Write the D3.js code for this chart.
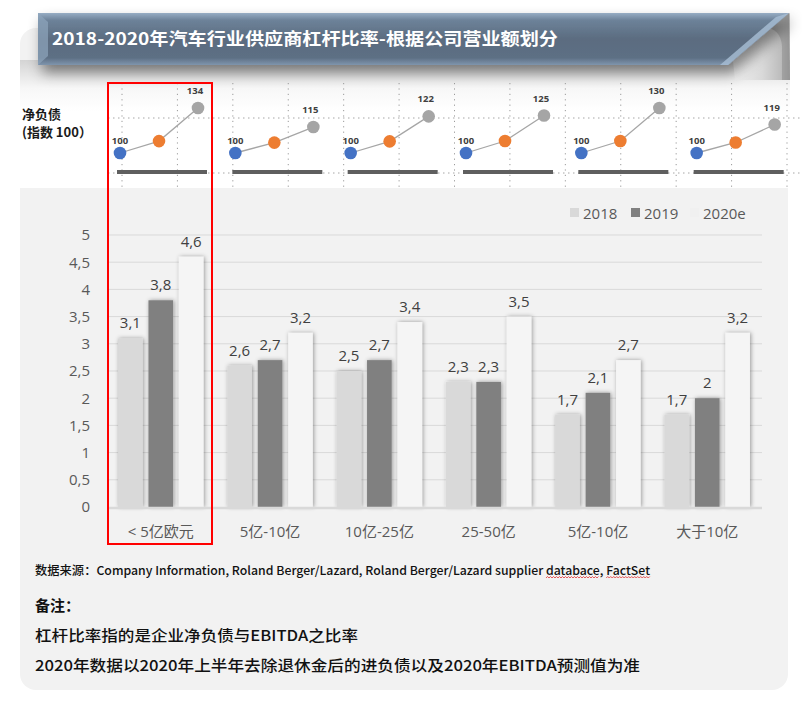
<!DOCTYPE html>
<html>
<head>
<meta charset="utf-8">
<script src="https://cdn.jsdelivr.net/npm/d3@7"></script>
<style>
  html, body { margin: 0; padding: 0; background: #ffffff; }
  svg { display: block; }
</style>
</head>
<body>
<svg id="chart" width="802" height="703"></svg>
<script>
// ---------------- DATA ----------------
const categories = ["< 5亿欧元", "5亿-10亿", "10亿-25亿", "25-50亿", "5亿-10亿", "大于10亿"];
const seriesNames = ["2018", "2019", "2020e"];
const values2018 = [3.1, 2.6, 2.5, 2.3, 1.7, 1.7];
const values2019 = [3.8, 2.7, 2.7, 2.3, 2.1, 2.0];
const values2020e = [4.6, 3.2, 3.4, 3.5, 2.7, 3.2];
const yTicks = [0, 0.5, 1, 1.5, 2, 2.5, 3, 3.5, 4, 4.5, 5];

// net debt index insets (index 2018 = 100)
const debtIndex2018 = [100, 100, 100, 100, 100, 100];
const debtIndex2019 = [109, 106, 107, 108, 108, 107];
const debtIndex2020 = [134, 115, 122, 125, 130, 119];
const insetAxisMax = [134, 126, 127, 130, 130, 130];

const titleText = "2018-2020年汽车行业供应商杠杆比率-根据公司营业额划分";
const sourceText = "数据来源：Company Information, Roland Berger/Lazard, Roland Berger/Lazard supplier databace, FactSet";
const notesTitle = "备注：";
const noteLines = ["杠杆比率指的是企业净负债与EBITDA之比率", "2020年数据以2020年上半年去除退休金后的进负债以及2020年EBITDA预测值为准"];
const insetLabelLines = ["净负债", "(指数 100）"];

// ---------------- SETUP ----------------
const svg = d3.select("#chart");
const FONT = '"Open Sans","Noto Sans CJK SC",sans-serif';
const CJK = '"Noto Sans CJK SC","Open Sans",sans-serif';
const fmt = d => String(d).replace(".", ",");

const defs = svg.append("defs");
const barShadow = defs.append("filter").attr("id", "barShadow")
  .attr("x", "-50%").attr("y", "-20%").attr("width", "200%").attr("height", "140%");
barShadow.append("feDropShadow").attr("dx", 1).attr("dy", 0).attr("stdDeviation", 2.2)
  .attr("flood-color", "#000").attr("flood-opacity", 0.38);

const bannerShadow = defs.append("filter").attr("id", "bannerShadow")
  .attr("x", "-10%").attr("y", "-30%").attr("width", "120%").attr("height", "190%");
bannerShadow.append("feDropShadow").attr("dx", 4).attr("dy", 8).attr("stdDeviation", 7)
  .attr("flood-color", "#000").attr("flood-opacity", 0.45);

const bannerGrad = defs.append("linearGradient").attr("id", "bannerGrad")
  .attr("x1", 0).attr("y1", 0).attr("x2", 0).attr("y2", 1);
[["0%", "#97adc4"], ["14%", "#6d8299"], ["50%", "#5b6c80"], ["86%", "#5d6f84"], ["100%", "#7f95ad"]]
  .forEach(([o, c]) => bannerGrad.append("stop").attr("offset", o).attr("stop-color", c));

const curlGrad = defs.append("linearGradient").attr("id", "curlGrad")
  .attr("x1", 0).attr("y1", 0).attr("x2", 1).attr("y2", 0);
[["0%", "#f4f4f4"], ["55%", "#d9d9d9"], ["85%", "#bdbdbd"], ["100%", "#9c9c9c"]]
  .forEach(([o, c]) => curlGrad.append("stop").attr("offset", o).attr("stop-color", c));

const stripGrad = defs.append("linearGradient").attr("id", "stripGrad")
  .attr("x1", 0).attr("y1", 0).attr("x2", 0).attr("y2", 1);
[["0%", "#d4d4d4"], ["22%", "#f7f7f7"], ["40%", "#ffffff"], ["100%", "#ffffff"]]
  .forEach(([o, c]) => stripGrad.append("stop").attr("offset", o).attr("stop-color", c));

// ---------------- BACKGROUND PANEL ----------------
svg.append("rect").attr("x", 20).attr("y", 28).attr("width", 768).attr("height", 662)
  .attr("rx", 16).attr("fill", "#f2f2f2");
// white strip for insets
svg.append("rect").attr("x", 20).attr("y", 60).attr("width", 770).attr("height", 128)
  .attr("fill", "url(#stripGrad)");

// page curl at right of banner
svg.append("path")
  .attr("d", "M728,13 L789,13 L790,80 L735,80 Z")
  .attr("fill", "url(#curlGrad)");
svg.append("path")
  .attr("d", "M764,27 Q781,29 782,46 L782,80 L790,80 L790,13 Z")
  .attr("fill", "#8f8f8f").attr("opacity", 0.55);

// banner
const banner = svg.append("g").attr("filter", "url(#bannerShadow)");
banner.append("path").attr("d", "M38,13 L789,13 L728,65 L38,65 Z").attr("fill", "url(#bannerGrad)");
svg.append("path").attr("d", "M38,13 L48,22 L48,56 L38,65 Z").attr("fill", "#8fa5bc").attr("opacity", 0.7);
svg.append("path").attr("d", "M789,13 L728,65 L720,65 L776,17 Z").attr("fill", "#a9bfd6").attr("opacity", 0.8);

svg.append("text").attr("x", 52).attr("y", 45)
  .attr("font-family", CJK).attr("font-weight", 700).attr("font-size", 17)
  .attr("fill", "#ffffff")
  .attr("textLength", 506).attr("lengthAdjust", "spacingAndGlyphs")
  .text(titleText);

// ---------------- INSETS ----------------
const insetX = d3.scaleBand().domain(categories.map((c, i) => i)).range([108, 800]);
const insetInner = d3.scalePoint().domain(seriesNames).range([12, 90]);
const insetColors = ["#4472c4", "#ed7d31", "#a5a5a5"];
const gridX = d3.scaleLinear().domain([0, 12]).range([122, 787]);

const insetG = svg.append("g");
// dotted grid
insetG.selectAll("line.vg").data(d3.range(13)).join("line")
  .attr("x1", d => gridX(d)).attr("x2", d => gridX(d))
  .attr("y1", 83).attr("y2", 188)
  .attr("stroke", "#9a9a9a").attr("stroke-width", 1).attr("stroke-dasharray", "1.2,4.2");
[118, 173].forEach(y => {
  insetG.append("line").attr("x1", 108).attr("x2", 800).attr("y1", y).attr("y2", y)
    .attr("stroke", "#a6a6a6").attr("stroke-width", 1).attr("stroke-dasharray", "1.5,3.5");
});

categories.forEach((c, i) => {
  const vals = [debtIndex2018[i], debtIndex2019[i], debtIndex2020[i]];
  const y = d3.scaleLinear().domain([100, insetAxisMax[i]]).range([153, 108]);
  const x0 = insetX(i);
  const pts = vals.map((v, j) => [x0 + insetInner(seriesNames[j]), y(v)]);
  const g = insetG.append("g");
  g.append("rect").attr("x", pts[0][0] - 3).attr("y", 170)
    .attr("width", pts[2][0] - pts[0][0] + 12).attr("height", 4)
    .attr("fill", "#5f5f5f");
  g.append("path").attr("d", d3.line()(pts))
    .attr("fill", "none").attr("stroke", "#a6a6a6").attr("stroke-width", 1.3);
  g.selectAll("circle").data(pts).join("circle")
    .attr("cx", d => d[0]).attr("cy", d => d[1]).attr("r", 6.3)
    .attr("fill", (d, j) => insetColors[j]);
  g.append("text").attr("x", pts[0][0]).attr("y", pts[0][1] - 9)
    .attr("text-anchor", "middle").attr("font-family", FONT).attr("font-weight", 700)
    .attr("font-size", 9.5).attr("fill", "#404040").text(vals[0]);
  g.append("text").attr("x", pts[2][0] - 3).attr("y", pts[2][1] - 14)
    .attr("text-anchor", "middle").attr("font-family", FONT).attr("font-weight", 700)
    .attr("font-size", 9.5).attr("fill", "#404040").text(vals[2]);
});

insetLabelLines.forEach((t, i) => {
  svg.append("text").attr("x", 22).attr("y", 119 + i * 18)
    .attr("font-family", CJK).attr("font-weight", 700).attr("font-size", 13)
    .attr("fill", "#1a1a1a").text(t);
});

// ---------------- MAIN BAR CHART ----------------
const y = d3.scaleLinear().domain([0, 5]).range([507, 235]);
const x0 = d3.scaleBand().domain(d3.range(categories.length)).range([108, 760])
  .paddingInner(0.218).paddingOuter(0.092);
const x1 = d3.scaleBand().domain(seriesNames).range([0, x0.bandwidth()]).paddingInner(0.19);
const colors = { "2018": "#d9d9d9", "2019": "#808080", "2020e": "#f5f5f5" };
const seriesValues = { "2018": values2018, "2019": values2019, "2020e": values2020e };

// gridlines
svg.append("g").selectAll("line").data(yTicks.filter(d => d > 0)).join("line")
  .attr("x1", 108).attr("x2", 762).attr("y1", d => y(d)).attr("y2", d => y(d))
  .attr("stroke", "#d9d9d9").attr("stroke-width", 1);

// y axis labels via d3 axis
const yAxis = svg.append("g").attr("transform", "translate(96,0)")
  .call(d3.axisLeft(y).tickValues(yTicks).tickFormat(fmt).tickSize(0).tickPadding(6));
yAxis.select(".domain").remove();
yAxis.selectAll("text").attr("font-family", FONT).attr("font-size", 15).attr("fill", "#595959");

// bars
const groups = svg.append("g").selectAll("g").data(categories.map((c, i) => i)).join("g")
  .attr("transform", i => `translate(${x0(i)},0)`);
groups.selectAll("rect").data(i => seriesNames.map(s => ({ s, v: seriesValues[s][i] }))).join("rect")
  .attr("x", d => x1(d.s)).attr("width", x1.bandwidth())
  .attr("y", d => y(d.v)).attr("height", d => y(0) - y(d.v))
  .attr("fill", d => colors[d.s]).attr("filter", "url(#barShadow)");
groups.selectAll("text").data(i => seriesNames.map(s => ({ s, v: seriesValues[s][i] }))).join("text")
  .attr("x", d => x1(d.s) + x1.bandwidth() / 2).attr("y", d => y(d.v) - 10)
  .attr("text-anchor", "middle").attr("font-family", FONT).attr("font-size", 15)
  .attr("fill", "#404040").text(d => fmt(d.v));

// baseline
svg.append("line").attr("x1", 108).attr("x2", 762).attr("y1", y(0) + 1).attr("y2", y(0) + 1)
  .attr("stroke", "#d9d9d9").attr("stroke-width", 2.5);

// x axis labels
const xAxis = svg.append("g").attr("transform", `translate(0,${y(0) + 2})`)
  .call(d3.axisBottom(x0).tickFormat(i => categories[i]).tickSize(0).tickPadding(17));
xAxis.select(".domain").remove();
xAxis.selectAll("text").attr("font-family", FONT).attr("font-size", 15).attr("fill", "#595959");

// legend
const legendX = d3.scalePoint().domain(seriesNames).range([570, 690]);
const legend = svg.append("g").selectAll("g").data(seriesNames).join("g")
  .attr("transform", (d, i) => `translate(${legendX(d) + (i === 1 ? 1 : 0)},0)`);
legend.append("rect").attr("x", 0).attr("y", 208).attr("width", 9).attr("height", 9)
  .attr("fill", d => colors[d] === "#f5f5f5" ? "#f0f0f0" : colors[d]);
legend.append("text").attr("x", 13).attr("y", 218.5)
  .attr("font-family", FONT).attr("font-size", 15).attr("fill", "#595959").text(d => d);

// red highlight box
svg.append("rect").attr("x", 108).attr("y", 83).attr("width", 104).attr("height", 461)
  .attr("fill", "none").attr("stroke", "#ff0000").attr("stroke-width", 2);

// ---------------- FOOTER ----------------
const src = svg.append("text").attr("x", 35).attr("y", 575)
  .attr("font-family", CJK).attr("font-weight", 500).attr("font-size", 12)
  .attr("fill", "#111").attr("textLength", 615).attr("lengthAdjust", "spacingAndGlyphs")
  .text(sourceText);

// spell-check wavy underline under "databace" and "FactSet"
(function () {
  const node = src.node();
  const total = node.getComputedTextLength();
  const natural = node.getSubStringLength(0, sourceText.length);
  const scale = 615 / (natural || total || 615);
  function wave(word) {
    const idx = sourceText.indexOf(word);
    if (idx < 0) return;
    const xs = 35 + node.getSubStringLength(0, idx) * scale;
    const xe = xs + node.getSubStringLength(idx, word.length) * scale;
    let d = `M${xs},578`;
    let up = true;
    for (let xx = xs + 1.5; xx <= xe; xx += 1.5) { d += ` L${xx},${up ? 576.5 : 578}`; up = !up; }
    svg.append("path").attr("d", d).attr("fill", "none").attr("stroke", "#e03030").attr("stroke-width", 0.8);
  }
  try { wave("databace"); wave("FactSet"); } catch (e) {}
})();

svg.append("text").attr("x", 35).attr("y", 611)
  .attr("font-family", CJK).attr("font-weight", 700).attr("font-size", 15)
  .attr("fill", "#111").text(notesTitle);
const noteWidths = [323, 605];
noteLines.forEach((t, i) => {
  svg.append("text").attr("x", 35).attr("y", 641 + i * 30)
    .attr("font-family", CJK).attr("font-weight", 500).attr("font-size", 15)
    .attr("fill", "#111").attr("textLength", noteWidths[i]).attr("lengthAdjust", "spacingAndGlyphs")
    .text(t);
});
</script>
</body>
</html>
